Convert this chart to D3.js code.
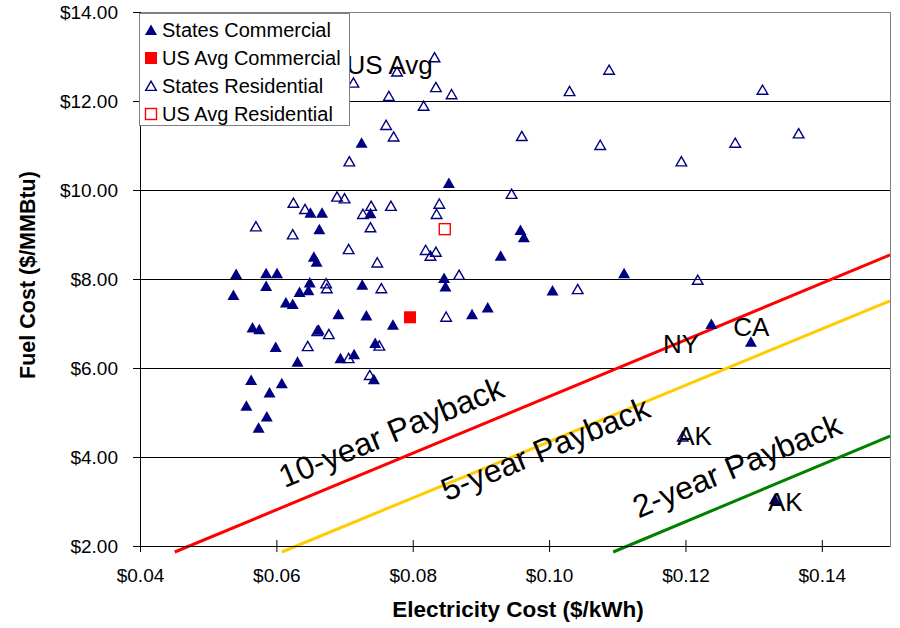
<!DOCTYPE html>
<html>
<head>
<meta charset="utf-8">
<script src="https://cdn.jsdelivr.net/npm/d3@7"></script>
<style>
  html, body { margin: 0; padding: 0; background: #fff; }
  svg { display: block; font-family: "Liberation Sans", Arial, sans-serif; }
</style>
</head>
<body>
<svg id="chart" width="900" height="628"></svg>
<script>
// ---------------- DATA ----------------
// States Commercial: [electricity $/kWh, fuel $/MMBtu]
const statesCommercial = [
  [0.0725, 11.06], [0.0853, 10.16], [0.0650, 9.49], [0.0667, 9.49], [0.0738, 9.48],
  [0.0663, 9.12], [0.0655, 8.50], [0.0659, 8.39], [0.0541, 8.11], [0.0585, 8.13],
  [0.0601, 8.13], [0.0585, 7.84], [0.0537, 7.64], [0.0649, 7.92], [0.0647, 7.75],
  [0.0634, 7.71], [0.0614, 7.47], [0.0624, 7.44], [0.0726, 7.87], [0.0846, 8.02],
  [0.0848, 7.83], [0.0929, 8.52], [0.0958, 9.10], [0.0963, 8.94], [0.1110, 8.13],
  [0.1005, 7.74], [0.0691, 7.21], [0.0732, 7.18], [0.0771, 6.97], [0.0887, 7.21],
  [0.0910, 7.36], [0.0565, 6.91], [0.0575, 6.87], [0.0662, 6.86], [0.0599, 6.47],
  [0.0631, 6.14], [0.0694, 6.22], [0.0714, 6.31], [0.0745, 6.56], [0.0563, 5.73],
  [0.0608, 5.66], [0.0743, 5.75], [0.0590, 5.45], [0.0556, 5.15], [0.0586, 4.91],
  [0.0574, 4.66], [0.1238, 6.99], [0.1296, 6.59], [0.1331, 3.05]
];
const usAvgCommercial = [[0.0796, 7.14]];
// States Residential
const statesResidential = [
  [0.0713, 12.41], [0.0765, 12.11], [0.0777, 12.66], [0.0832, 12.98], [0.0834, 12.31],
  [0.0857, 12.15], [0.0816, 11.89], [0.0761, 11.46], [0.0772, 11.20], [0.0707, 10.64],
  [0.0945, 9.91], [0.0960, 11.21], [0.1088, 12.70], [0.1030, 12.22], [0.1313, 12.25],
  [0.1075, 11.01], [0.1194, 10.64], [0.1273, 11.06], [0.1366, 11.27], [0.0689, 9.85],
  [0.0700, 9.81], [0.0625, 9.71], [0.0642, 9.57], [0.0739, 9.64], [0.0727, 9.46],
  [0.0768, 9.64], [0.0839, 9.69], [0.0835, 9.46], [0.0570, 9.18], [0.0738, 9.16],
  [0.0624, 9.00], [0.0706, 8.67], [0.0819, 8.65], [0.0834, 8.61], [0.0826, 8.52],
  [0.0748, 8.37], [0.0868, 8.09], [0.0673, 7.90], [0.0674, 7.79], [0.0754, 7.79],
  [0.0849, 7.15], [0.0660, 6.83], [0.0677, 6.76], [0.0646, 6.49], [0.0751, 6.50],
  [0.0706, 6.22], [0.0737, 5.84], [0.1042, 7.77], [0.1218, 7.98], [0.1196, 4.46]
];
const usAvgResidential = [[0.0847, 9.12]];

// Payback lines (endpoints in data units)
const paybackNames = ["10-year Payback", "5-year Payback", "2-year Payback"];
const paybackLines = [
  [[0.0451, 1.865], [0.15, 8.54]],
  [[0.0608, 1.865], [0.15, 7.51]],
  [[0.1094, 1.865], [0.15, 4.47]]
];
const paybackColors = ["#ff0000", "#ffcc00", "#008000"];
const paybackLabelPos = [[0.0612, 3.30], [0.0850, 3.00], [0.1131, 2.62]];

// Point annotations
const annoText = ["US Avg", "NY", "CA", "AK", "AK"];
const annoPos = [[0.0703, 12.61], [0.1167, 6.34], [0.1270, 6.72], [0.1188, 4.27], [0.1321, 2.79]];

const xTicks = [0.04, 0.06, 0.08, 0.10, 0.12, 0.14];
const yTicks = [2, 4, 6, 8, 10, 12, 14];
const legendLabels = ["States Commercial", "US Avg Commercial", "States Residential", "US Avg Residential"];

// ---------------- CHART ----------------
const svg = d3.select("#chart");
const L = 140, R = 890, T = 12, B = 546;
const x = d3.scaleLinear().domain([0.04, 0.15]).range([L, R]);
const y = d3.scaleLinear().domain([2, 14]).range([B, T]);
const navy = "#000080";

// gridlines
svg.append("g").selectAll("line").data(yTicks.filter(d => d > 2 && d < 14)).join("line")
  .attr("x1", L).attr("x2", R).attr("y1", d => y(d)).attr("y2", d => y(d))
  .attr("stroke", "#000").attr("stroke-width", 1).attr("shape-rendering", "crispEdges");

// plot border (top/right)
svg.append("path")
  .attr("d", `M${L},${T}H${R}V${B}`)
  .attr("fill", "none").attr("stroke", "#808080").attr("stroke-width", 1)
  .attr("shape-rendering", "crispEdges");

// clip for lines
svg.append("clipPath").attr("id", "clip").append("rect")
  .attr("x", L).attr("y", T).attr("width", R - L).attr("height", B - T + 10);

// payback lines
const lineGen = d3.line().x(d => x(d[0])).y(d => y(d[1]));
svg.append("g").attr("clip-path", "url(#clip)").selectAll("path").data(paybackLines).join("path")
  .attr("d", lineGen).attr("fill", "none")
  .attr("stroke", (d, i) => paybackColors[i]).attr("stroke-width", 3);

// axes
const xAxis = d3.axisBottom(x).tickValues(xTicks).tickSize(0).tickPadding(0)
  .tickFormat(d => "$" + d3.format(".2f")(d));
const gx = svg.append("g").attr("transform", `translate(0,${B})`).call(xAxis);
gx.select(".domain").attr("stroke", "#000");
gx.selectAll(".tick text").attr("font-size", 19).attr("fill", "#000")
  .attr("font-family", '"Liberation Sans", Arial, sans-serif').attr("dy", null).attr("y", 36);
gx.selectAll(".tick").append("line").attr("y1", -6).attr("y2", 6).attr("stroke", "#000");

const yAxis = d3.axisLeft(y).tickValues(yTicks).tickSize(7).tickPadding(15)
  .tickFormat(d => "$" + d3.format(".2f")(d));
const gy = svg.append("g").attr("transform", `translate(${L},0)`).call(yAxis);
gy.select(".domain").attr("stroke", "#000");
gy.selectAll(".tick line").attr("stroke", "#000");
gy.selectAll(".tick text").attr("font-size", 19).attr("fill", "#000")
  .attr("font-family", '"Liberation Sans", Arial, sans-serif');

// markers
const triPath = "M0,-5.5L6,5L-6,5Z";
const triOpen = "M0,-4.8L5.3,4.4L-5.3,4.4Z";
svg.append("g").selectAll("path").data(statesResidential).join("path")
  .attr("d", triOpen).attr("transform", d => `translate(${x(d[0])},${y(d[1])})`)
  .attr("fill", "#fff").attr("fill-opacity", 0).attr("stroke", navy).attr("stroke-width", 1.4);
svg.append("g").selectAll("path").data(statesCommercial).join("path")
  .attr("d", triPath).attr("transform", d => `translate(${x(d[0])},${y(d[1])})`)
  .attr("fill", navy);
svg.append("g").selectAll("rect").data(usAvgCommercial).join("rect")
  .attr("x", d => x(d[0]) - 6).attr("y", d => y(d[1]) - 6).attr("width", 12).attr("height", 12)
  .attr("fill", "#ff0000");
svg.append("g").selectAll("rect").data(usAvgResidential).join("rect")
  .attr("x", d => x(d[0]) - 5.5).attr("y", d => y(d[1]) - 5.5).attr("width", 11).attr("height", 11)
  .attr("fill", "none").attr("stroke", "#ff0000").attr("stroke-width", 1.4);

// payback labels
svg.append("g").selectAll("text").data(paybackNames).join("text")
  .attr("transform", (d, i) => `translate(${x(paybackLabelPos[i][0])},${y(paybackLabelPos[i][1])}) rotate(-22.5)`)
  .attr("font-size", 32).attr("fill", "#000").text(d => d);

// annotations
svg.append("g").selectAll("text").data(annoText).join("text")
  .attr("x", (d, i) => x(annoPos[i][0])).attr("y", (d, i) => y(annoPos[i][1]))
  .attr("font-size", 26).attr("fill", "#000").text(d => d);

// axis titles
svg.append("text").attr("x", 518).attr("y", 617).attr("text-anchor", "middle")
  .attr("font-size", 22.5).attr("font-weight", "bold").text("Electricity Cost ($/kWh)");
svg.append("text").attr("transform", "translate(35,275) rotate(-90)").attr("text-anchor", "middle")
  .attr("font-size", 21.5).attr("font-weight", "bold").text("Fuel Cost ($/MMBtu)");

// legend
const lg = svg.append("g");
lg.append("rect").attr("x", 139.5).attr("y", 13.5).attr("width", 210).attr("height", 112)
  .attr("fill", "#fff").attr("stroke", "#808080").attr("stroke-width", 1);
const rows = lg.selectAll("g").data(legendLabels).join("g")
  .attr("transform", (d, i) => `translate(151,${30 + i * 28})`);
rows.each(function (d, i) {
  const g = d3.select(this);
  if (i === 0) g.append("path").attr("d", triPath).attr("fill", navy);
  if (i === 1) g.append("rect").attr("x", -6).attr("y", -6).attr("width", 12).attr("height", 12).attr("fill", "#ff0000");
  if (i === 2) g.append("path").attr("d", triOpen).attr("fill", "none").attr("stroke", navy).attr("stroke-width", 1.4);
  if (i === 3) g.append("rect").attr("x", -5.5).attr("y", -5.5).attr("width", 11).attr("height", 11).attr("fill", "none").attr("stroke", "#ff0000").attr("stroke-width", 1.4);
});
rows.append("text").attr("x", 11).attr("y", 7).attr("font-size", 20).attr("fill", "#000").text(d => d);
</script>
</body>
</html>
